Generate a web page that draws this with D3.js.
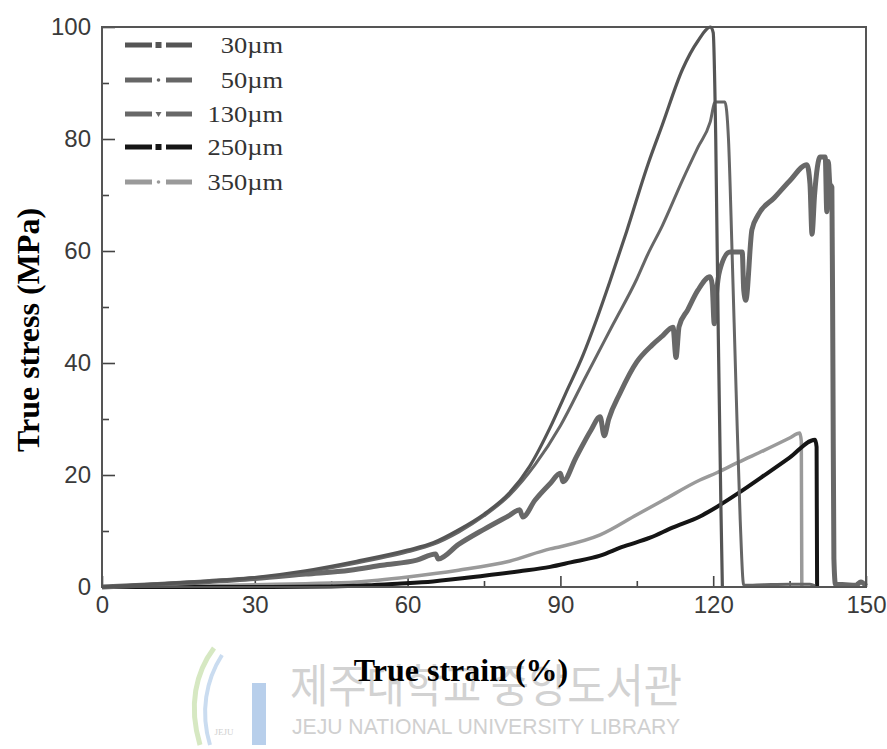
<!DOCTYPE html>
<html>
<head>
<meta charset="utf-8">
<script src="https://cdn.jsdelivr.net/npm/d3@7"></script>
<style>
  html, body { margin: 0; padding: 0; background: #fff; }
  svg { display: block; }
</style>
</head>
<body>
<svg id="chart" width="887" height="749"></svg>
<script>
// ---------- DATA (strain %, true stress MPa) ----------
const s30 = [[0,0],[10,0.5],[20,1.0],[30,1.7],[40,2.9],[50,4.6],[60,6.6],[65,7.9],[70,10.2],[75,13.0],[80,16.8],[84,21.6],[88,28.5],[91,34.5],[94.4,41.3],[97,47.5],[99.7,54.5],[103,63.5],[107.2,75.5],[110,82.5],[114,92.5],[117,97.5],[119.5,100],[120,99],[120.5,80],[121,45],[121.5,15],[121.8,0]];
const s50 = [[0,0],[10,0.5],[20,1.0],[30,1.6],[40,2.7],[50,4.3],[60,6.3],[65,7.6],[70,9.8],[75,12.7],[80,16.4],[85,21.8],[90,28.8],[95,37.6],[100.4,47],[105,55],[107.2,59.5],[110,64.5],[114,72.7],[117,78.5],[119.4,83],[120.4,86.6],[122.3,86.6],[123,80],[123.7,60],[124.5,35],[125.3,12],[126,0.3],[130,0.4],[135,0.5],[139,0.5],[140,0.2]];
const s130 = [[0,0],[10,0.4],[20,0.9],[30,1.5],[40,2.3],[48.7,3.0],[55,3.9],[61.8,4.8],[65.5,5.9],[66,5.0],[70,7.6],[75,10.3],[80,12.8],[82,13.8],[82.6,12.5],[85,15.5],[88,18.5],[90,20.3],[90.5,18.8],[93,23],[96,28],[97.8,30.4],[98.6,27],[99.5,30],[101.7,34.6],[105,40.2],[108,43.2],[110,44.8],[112.1,46.4],[112.7,41],[113.3,46.5],[115,49.5],[117,53],[119.4,55.4],[119.8,54],[120.2,47],[120.6,52],[121.3,56.6],[123.3,59.8],[125.7,59.8],[126,53],[126.4,51.2],[127.6,63.8],[128.8,66.4],[132,69.5],[135,72.5],[138.4,75.4],[139,72],[139.4,63],[139.9,70],[141,76.8],[142,76.8],[142.3,67],[142.6,76],[142.9,72],[143.3,71.4],[143.5,40],[143.7,5],[144,0.5],[146,0.4],[148,0.3],[149,0.9],[150,0.2]];
const s250 = [[0,0],[30,0],[45,0.1],[52,0.3],[58,0.6],[65,1.0],[75,2.0],[82,2.8],[88,3.6],[92,4.4],[97.8,5.6],[102,7.1],[107.6,8.8],[112,10.6],[117.4,12.6],[120.7,14.3],[125,16.8],[130.6,20.3],[135,23.1],[140,26.3],[140.3,25],[140.4,0]];
const s350 = [[0,0],[20,0.2],[30,0.4],[40,0.6],[50,0.9],[60,1.8],[70,3.0],[80,4.6],[88,6.8],[90,7.2],[97.8,9.3],[105,12.9],[110,15.4],[117.4,19.1],[120.7,20.4],[125,22.3],[130,24.4],[135,26.6],[137,27.5],[137.3,26],[137.4,0]];

const seriesNames = ["30\u00b5m","50\u00b5m","130\u00b5m","250\u00b5m","350\u00b5m"];
const seriesData = [s30, s50, s130, s250, s350];
const seriesColors = ["#555555","#666666","#686868","#151515","#9a9a9a"];
const seriesWidths = [3.2, 3, 5, 4, 3.5];
const seriesMarkers = ["square","dot","triangle","square","dot"];

const xMajorTicks = [0,30,60,90,120,150];
const xMinorTicks = [15,45,75,105,135];
const yMajorTicks = [0,20,40,60,80,100];
const yMinorTicks = [10,30,50,70,90];

const xTitle = "True strain (%)";
const yTitle = "True stress (MPa)";
const wmKorean = "제주대학교 중앙도서관";
const wmEnglish = "JEJU NATIONAL UNIVERSITY LIBRARY";

// ---------- LAYOUT ----------
const svg = d3.select("#chart");
const L = 102, R = 866, T = 27, B = 587;
const x = d3.scaleLinear().domain([0,150]).range([L,R]);
const y = d3.scaleLinear().domain([0,100]).range([B,T]);

// ---------- WATERMARK ----------
const wm = svg.append("g").attr("class","watermark");
wm.append("path")
  .attr("d","M214,648 C196,672 188,705 200,745")
  .attr("fill","none").attr("stroke","#d6e8c2").attr("stroke-width",5);
wm.append("path")
  .attr("d","M222,655 C206,680 200,712 210,745")
  .attr("fill","none").attr("stroke","#cadcf0").attr("stroke-width",4);
wm.append("rect").attr("x",252).attr("y",683).attr("width",14).attr("height",62).attr("fill","#b8cfeb");
wm.append("text").attr("x",224).attr("y",735).attr("text-anchor","middle")
  .attr("font-family","Liberation Serif, serif").attr("font-size",9).attr("fill","#cfcfcf").text("JEJU");
wm.append("text").attr("x",290).attr("y",702)
  .attr("font-family","'Noto Sans CJK KR', sans-serif").attr("font-size",46)
  .attr("textLength",392).attr("lengthAdjust","spacingAndGlyphs")
  .attr("fill","#d2d2d2").text(wmKorean);
wm.append("text").attr("x",292).attr("y",734)
  .attr("font-family","'Liberation Sans', Arial, sans-serif").attr("font-size",22)
  .attr("textLength",388).attr("lengthAdjust","spacingAndGlyphs")
  .attr("fill","#d0d0d0").text(wmEnglish);

// ---------- AXES ----------
const tickFont = "'Liberation Sans', Arial, Helvetica, sans-serif";
function styleAxis(g){
  g.select(".domain").remove();
  g.selectAll("line").attr("stroke","#444").attr("stroke-width",1.6);
  g.selectAll("text").attr("font-family",tickFont).attr("font-size",24).attr("fill","#3a3a3a");
}
svg.append("g").attr("transform",`translate(0,${B})`)
  .call(d3.axisBottom(x).tickValues(xMajorTicks).tickSizeInner(-11).tickSizeOuter(0).tickPadding(9).tickFormat(d3.format("d")))
  .call(styleAxis);
svg.append("g").attr("transform",`translate(0,${B})`)
  .call(d3.axisBottom(x).tickValues(xMinorTicks).tickSizeInner(-6).tickSizeOuter(0).tickFormat(""))
  .call(styleAxis);
svg.append("g").attr("transform",`translate(${L},0)`)
  .call(d3.axisLeft(y).tickValues(yMajorTicks).tickSizeInner(-13).tickSizeOuter(0).tickPadding(11).tickFormat(d3.format("d")))
  .call(styleAxis);
svg.append("g").attr("transform",`translate(${L},0)`)
  .call(d3.axisLeft(y).tickValues(yMinorTicks).tickSizeInner(-7).tickSizeOuter(0).tickFormat(""))
  .call(styleAxis);

// ---------- CURVES ----------
const line = d3.line().x(d=>x(d[0])).y(d=>y(d[1])).curve(d3.curveMonotoneX);
const order = [4,3,2,1,0];
order.forEach(i=>{
  svg.append("path").datum(seriesData[i])
    .attr("d",line)
    .attr("fill","none")
    .attr("stroke",seriesColors[i])
    .attr("stroke-width",seriesWidths[i])
    .attr("stroke-linejoin","round")
    .attr("stroke-linecap","butt");
});

// frame
svg.append("rect").attr("x",L).attr("y",T).attr("width",R-L).attr("height",B-T)
  .attr("fill","none").attr("stroke","#555").attr("stroke-width",2);

// ---------- LEGEND ----------
const legendY = [45,80,114,147,182];
const lg = svg.append("g");
seriesNames.forEach((name,i)=>{
  const yy = legendY[i];
  const c = seriesColors[i];
  lg.append("line").attr("x1",125).attr("x2",152).attr("y1",yy).attr("y2",yy)
    .attr("stroke",c).attr("stroke-width",5);
  lg.append("line").attr("x1",166).attr("x2",192).attr("y1",yy).attr("y2",yy)
    .attr("stroke",c).attr("stroke-width",5);
  const m = seriesMarkers[i];
  if(m==="square"){
    lg.append("rect").attr("x",155.5).attr("y",yy-3).attr("width",6).attr("height",6).attr("fill",c);
  } else if(m==="dot"){
    lg.append("circle").attr("cx",158.5).attr("cy",yy).attr("r",1.8).attr("fill",c);
  } else {
    lg.append("path").attr("d",`M155.5,${yy-2} L161.5,${yy-2} L158.5,${yy+3} Z`).attr("fill",c);
  }
  const t = lg.append("text").attr("x",283).attr("y",yy+8).attr("text-anchor","end")
    .attr("font-family","'Liberation Serif', 'Times New Roman', serif").attr("font-size",23)
    .attr("fill","#333").text(name);
  const len = t.node().getComputedTextLength();
  t.attr("textLength", len*1.15).attr("lengthAdjust","spacingAndGlyphs");
});

// ---------- TITLES ----------
svg.append("text").attr("x",461).attr("y",681).attr("text-anchor","middle")
  .attr("font-family","'Liberation Serif', 'Times New Roman', serif").attr("font-weight","bold")
  .attr("font-size",32).attr("fill","#000").text(xTitle);
svg.append("text").attr("transform","translate(39,330) rotate(-90)").attr("text-anchor","middle")
  .attr("font-family","'Liberation Serif', 'Times New Roman', serif").attr("font-weight","bold")
  .attr("font-size",32).attr("fill","#000").text(yTitle);
</script>
</body>
</html>
